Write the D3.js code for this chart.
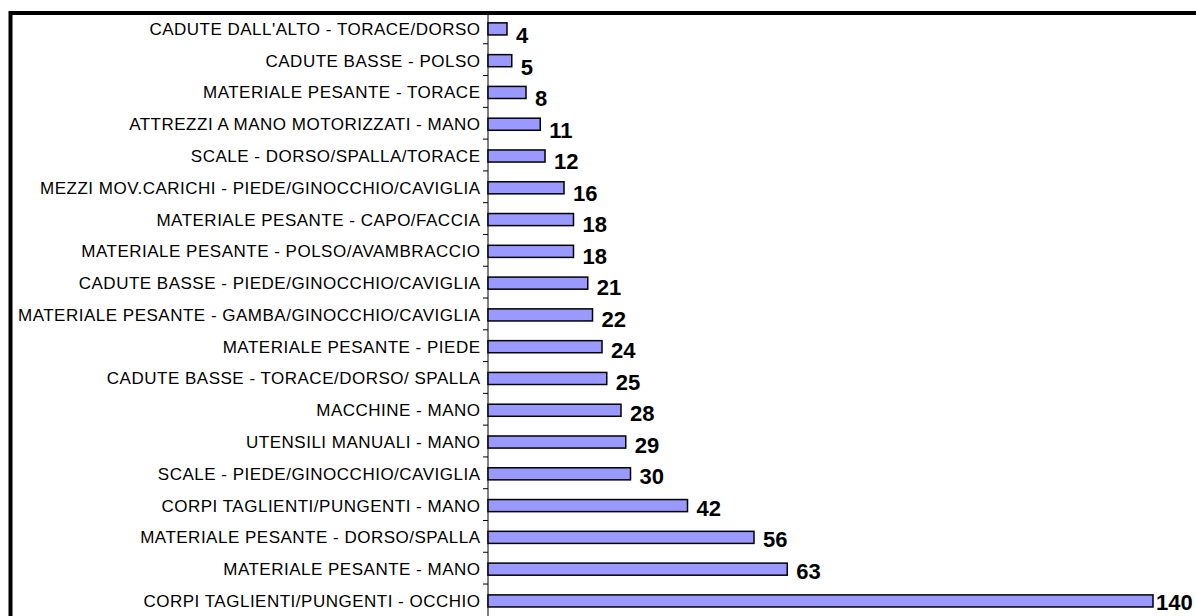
<!DOCTYPE html>
<html>
<head>
<meta charset="utf-8">
<script src="https://cdn.jsdelivr.net/npm/d3@7"></script>
<style>
    body { margin: 0; background: #fff; }
    svg { display: block; }
</style>
</head>
<body>
<script>
    // categories, top to bottom
    let categories = [
        "CADUTE DALL'ALTO - TORACE/DORSO",
        "CADUTE BASSE - POLSO",
        "MATERIALE PESANTE - TORACE",
        "ATTREZZI A MANO MOTORIZZATI - MANO",
        "SCALE - DORSO/SPALLA/TORACE",
        "MEZZI MOV.CARICHI - PIEDE/GINOCCHIO/CAVIGLIA",
        "MATERIALE PESANTE - CAPO/FACCIA",
        "MATERIALE PESANTE - POLSO/AVAMBRACCIO",
        "CADUTE BASSE - PIEDE/GINOCCHIO/CAVIGLIA",
        "MATERIALE PESANTE - GAMBA/GINOCCHIO/CAVIGLIA",
        "MATERIALE PESANTE - PIEDE",
        "CADUTE BASSE - TORACE/DORSO/ SPALLA",
        "MACCHINE - MANO ",
        "UTENSILI MANUALI - MANO",
        "SCALE - PIEDE/GINOCCHIO/CAVIGLIA",
        "CORPI TAGLIENTI/PUNGENTI - MANO",
        "MATERIALE PESANTE - DORSO/SPALLA",
        "MATERIALE PESANTE - MANO",
        "CORPI TAGLIENTI/PUNGENTI - OCCHIO"
    ];
    let values = [4, 5, 8, 11, 12, 16, 18, 18, 21, 22, 24, 25, 28, 29, 30, 42, 56, 63, 140];

    let w = 1196,
        h = 616;

    let svg = d3.select("body")
        .append("svg")
        .attr("width", w)
        .attr("height", h);

    // outer frame (runs off the right and bottom edges)
    svg.append("rect")
        .attr("x", 10.5)
        .attr("y", 13)
        .attr("width", w + 20)
        .attr("height", h + 20)
        .style("fill", "none")
        .style("stroke", "#000")
        .style("stroke-width", 4);

    let x0 = 488;

    let x = d3.scaleLinear()
        .domain([0, 140])
        .range([x0, 1153]);

    let y = d3.scaleBand()
        .domain(categories)
        .range([13, 13 + 19 * 31.78])
        .paddingInner(0.62)
        .paddingOuter(0.31);

    // value labels sit on a slightly tighter spacing than the bars
    let yLabel = d3.scalePoint()
        .domain(categories)
        .range([43, 43 + 18 * 31.5]);

    // axis line with ticks between categories
    let g = svg.append("g");
    g.append("line")
        .attr("x1", x0).attr("x2", x0)
        .attr("y1", 13).attr("y2", h)
        .style("stroke", "#000")
        .style("stroke-width", 1);

    g.selectAll(".tick")
        .data(categories.slice(1))
        .enter()
        .append("line")
        .attr("class", "tick")
        .attr("x1", x0 - 5).attr("x2", x0)
        .attr("y1", function(d) { return y(d) - y.step() * y.paddingInner() / 2 - 1; })
        .attr("y2", function(d) { return y(d) - y.step() * y.paddingInner() / 2 - 1; })
        .style("stroke", "#000");

    // category labels
    svg.selectAll(".cat")
        .data(categories)
        .enter()
        .append("text")
        .attr("class", "cat")
        .attr("x", 480.5)
        .attr("y", function(d) { return y(d) + y.bandwidth() / 2; })
        .attr("dy", "0.35em")
        .attr("text-anchor", "end")
        .style("font-family", "'Liberation Sans', Arial, sans-serif")
        .style("font-size", "17px")
        .style("letter-spacing", "0.5px")
        .text(function(d) { return d; });

    // bars
    svg.selectAll(".bar")
        .data(values)
        .enter()
        .append("rect")
        .attr("class", "bar")
        .attr("x", x0)
        .attr("y", function(d, i) { return y(categories[i]); })
        .attr("width", function(d) { return x(d) - x0; })
        .attr("height", y.bandwidth())
        .style("fill", "#9999FF")
        .style("stroke", "#000")
        .style("stroke-width", 1.5);

    // value labels
    svg.selectAll(".val")
        .data(values)
        .enter()
        .append("text")
        .attr("class", "val")
        .attr("x", function(d) {
            // keep the last label inside the picture
            return Math.min(x(d) + 9, w - 40);
        })
        .attr("y", function(d, i) { return yLabel(categories[i]); })
        .style("font-family", "'Liberation Sans', Arial, sans-serif")
        .style("font-size", "22px")
        .style("font-weight", "bold")
        .text(function(d) { return d; });
</script>
</body>
</html>
